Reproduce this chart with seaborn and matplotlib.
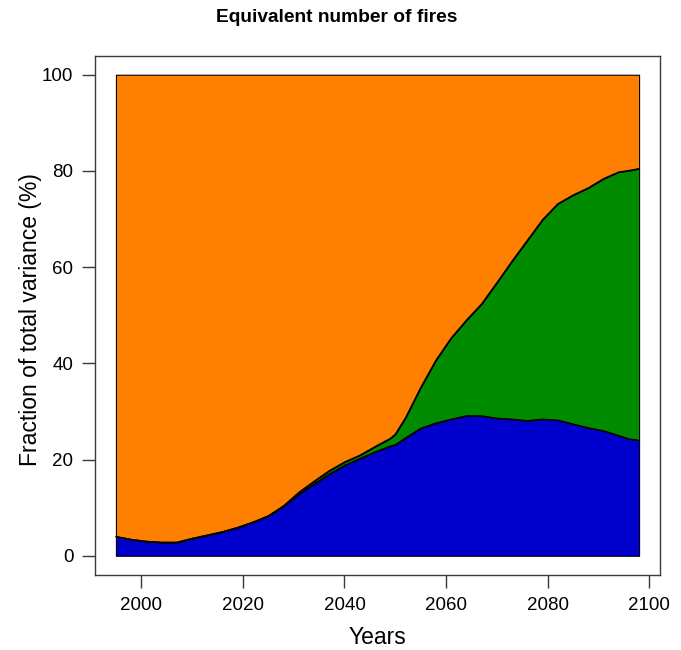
import matplotlib
matplotlib.use("Agg")
import matplotlib.pyplot as plt
import numpy as np
import pandas as pd
import seaborn as sns

# values (percent of total variance)
years = [1995, 1998, 2001, 2004, 2007, 2010, 2013, 2016, 2019, 2022, 2025,
         2028, 2031, 2034, 2037, 2040, 2043, 2046, 2049, 2050, 2052, 2055,
         2058, 2061, 2064, 2067, 2070, 2073, 2076, 2079, 2082, 2085, 2088,
         2091, 2094, 2096, 2098]
frac_blue = [4.0, 3.4, 3.0, 2.8, 2.8, 3.6, 4.3, 5.0, 5.9, 7.0, 8.3,
             10.3, 12.8, 14.9, 17.0, 18.8, 20.2, 21.6, 22.8, 23.1, 24.5, 26.5,
             27.6, 28.4, 29.1, 29.1, 28.6, 28.4, 28.1, 28.4, 28.2, 27.4, 26.6,
             26.0, 25.0, 24.3, 24.0]
frac_green = [0.0, 0.0, 0.0, 0.0, 0.0, 0.0, 0.0, 0.0, 0.0, 0.0, 0.0,
              0.1, 0.4, 0.6, 0.7, 0.7, 0.7, 1.1, 1.6, 2.2, 4.2, 8.5,
              13.1, 16.9, 19.9, 23.3, 28.2, 32.9, 37.5, 41.5, 45.0, 47.6, 49.9,
              52.4, 54.8, 55.8, 56.5]

col_blue = "#0000CD"
col_green = "#008B00"
col_orange = "#FF7F00"
frame_col = "#3a3a3a"

sns.set_style("white")
plt.rcParams["font.family"] = ["Liberation Sans", "DejaVu Sans"]
plt.rcParams["text.color"] = "black"

df = pd.DataFrame({"year": years, "blue": frac_blue, "green": frac_green})
df["upper"] = df["blue"] + df["green"]

fig = plt.figure(figsize=(6.81, 6.5), dpi=100, facecolor="white")
ax = fig.add_axes([95 / 681, 75 / 650, 565 / 681, 519.5 / 650])

ax.fill_between(df["year"], 0, df["blue"], facecolor=col_blue,
                edgecolor="black", linewidth=0.8)
ax.fill_between(df["year"], df["blue"], df["upper"], facecolor=col_green,
                edgecolor="black", linewidth=0.8)
ax.fill_between(df["year"], df["upper"], 100, facecolor=col_orange,
                edgecolor="black", linewidth=0.8)
sns.lineplot(data=df, x="year", y="blue", color="black", linewidth=0.8, ax=ax)
sns.lineplot(data=df, x="year", y="upper", color="black", linewidth=0.8, ax=ax)

# R style axis limits (4% padding)
ax.set_xlim(1995 - 0.04 * 103, 2098 + 0.04 * 103)
ax.set_ylim(-4, 104)
ax.set_xticks(np.arange(2000, 2101, 20))
ax.set_yticks(np.arange(0, 101, 20))
ax.tick_params(axis="both", direction="out", length=9.5, width=1,
               color=frame_col, labelsize=13.5, pad=6, labelcolor="black")
ax.tick_params(axis="both", bottom=True, left=True)
for s in ax.spines.values():
    s.set_color(frame_col)
    s.set_linewidth(1)
ax.set_xlabel("")
ax.set_ylabel("")

fig.text(337 / 681, 1 - 17 / 650, "Equivalent number of fires",
         ha="center", va="center", fontsize=13.8, fontweight="bold",
         color="black")
fig.text(377.5 / 681, 1 - 638 / 650, "Years", ha="center", va="center",
         fontsize=16.5, color="black")
fig.text(31 / 681, 1 - 320 / 650, "Fraction of total variance (%)",
         ha="center", va="center", rotation=90, fontsize=16.5, color="black")

fig.savefig("out.png", dpi=100, facecolor="white")
plt.close(fig)
